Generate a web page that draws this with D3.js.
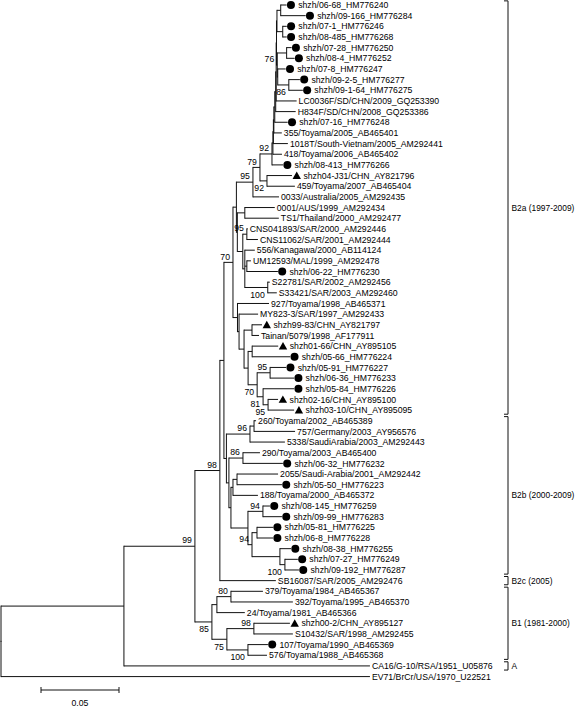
<!DOCTYPE html>
<html><head><meta charset="utf-8">
<script src="https://cdn.jsdelivr.net/npm/d3@7"></script>
<style>
html,body{margin:0;padding:0;background:#fff;}
svg{display:block;font-family:"Liberation Sans",Arial,Helvetica,sans-serif;}
</style></head><body>
<svg id="chart" width="576" height="707"></svg>
<script>
// Tree (Newick, branch lengths in substitutions/site; internal labels = bootstrap, "b" suffix = printed below node)
const treeNewick = `
((((((
 (
  (
   (
    ((((((((
      ((
        (shzh/06-68_HM776240:0.0038,shzh/09-166_HM776284:0.0160):0.0024,
        (shzh/07-1_HM776246:0.0026,shzh/08-485_HM776268:0.0026):0.0037
      ):0.0003,
      (
        (shzh/07-28_HM776250:0.0032,shzh/08-4_HM776252:0.0051):0.0060,
        (shzh/07-8_HM776247:0.0051,(shzh/09-2-5_HM776277:0.0071,shzh/09-1-64_HM776275:0.0090)86b:0.0071):0.0003
      )76:0.0005
     ):0.0002,
     LC0036F/SD/CHN/2009_GQ253390:0.0131):0.0003,
     H834F/SD/CHN/2008_GQ253386:0.0128):0.0006,
     shzh/07-16_HM776248:0.0083):0.0006,
     355/Toyama/2005_AB465401:0.0051):0.0003,
     1018T/South-Vietnam/2005_AM292441:0.0093):0.0003,
     418/Toyama/2006_AB465402:0.0058):0.0006,
     shzh/08-413_HM776266:0.0071)92:0.0077,
     (shzh04-J31/CHN_AY821796:0.0160,459/Toyama/2007_AB465404:0.0179)92b:0.0045
    )79:0.0045,
    0033/Australia/2005_AM292435:0.0167)95:0.0106,
   (
    (0001/AUS/1999_AM292434:0.0192,TS1/Thailand/2000_AM292477:0.0218):0.0048,
    (
     (CNS041893/SAR/2000_AM292446:0.0006,CNS11062/SAR/2001_AM292444:0.0071)95:0.0026,
     (556/Kanagawa/2000_AB114124:0.0064,
      (UM12593/MAL/1999_AM292478:0.0026,shzh/06-22_HM776230:0.0199):0.0013,
      (S22781/SAR/2002_AM292456:0.0013,S33421/SAR/2003_AM292460:0.0058)100b:0.0147
     ):0.0013
    ):0.0035
   ):0.0006
  ):0.0022,
  (927/Toyama/1998_AB465371:0.0202,
   (MY823-3/SAR/1997_AM292433:0.0122,
    (
     (shzh99-83/CHN_AY821797:0.0064,Tainan/5079/1998_AF177911:0.0045):0.0051,
     (
      (shzh01-66/CHN_AY895105:0.0167,shzh/05-66_HM776224:0.0244):0.0026,
      (
       (shzh/05-91_HM776227:0.0103,shzh/06-36_HM776233:0.0154)95:0.0083,
       (shzh/05-84_HM776226:0.0199,(shzh02-16/CHN_AY895100:0.0064,shzh03-10/CHN_AY895095:0.0167)95b:0.0032)81b:0.0038
      )70b:0.0058
     ):0.0026
    ):0.0032
   ):0.0010
  ):0.0029
 )70:0.0058,
 (
  ((260/Toyama/2002_AB465389:0.0013,757/Germany/2003_AY956576:0.0263):0.0026,5338/SaudiArabia/2003_AM292443:0.0224)96:0.0151,
  (
   (290/Toyama/2003_AB465400:0.0109,shzh/06-32_HM776232:0.0256)86:0.0090,
   (
    ((2055/Saudi-Arabia/2001_AM292442:0.0263,shzh/05-50_HM776223:0.0288):0.0026,188/Toyama/2000_AB465372:0.0160):0.0013,
    (
     (shzh/08-145_HM776259:0.0045,shzh/09-99_HM776283:0.0122)94:0.0096,
     (
      (shzh/05-81_HM776225:0.0103,shzh/06-8_HM776228:0.0103):0.0032,
      (shzh/08-38_HM776255:0.0071,(shzh/07-27_HM776249:0.0083,shzh/09-192_HM776287:0.0090)100b:0.0032):0.0179
     )94:0.0026
    ):0.0109
   ):0.0013
  ):0.0016
 ):0.0016
):0.0026,
SB16087/SAR/2005_AM292476:0.0359)98:0.0160,
(
 ((379/Toyama/1984_AB465367:0.0205,392/Toyama/1995_AB465370:0.0397)80:0.0090,24/Toyama/1981_AB465366:0.0179):0.0032,
 ((shzh00-2/CHN_AY895127:0.0231,S10432/SAR/1998_AM292455:0.0250)98:0.0173,
  (107/Toyama/1990_AB465369:0.0128,576/Toyama/1988_AB465368:0.0122)100b:0.0135)75b:0.0096
)85b:0.0109
)99:0.0455,
CA16/G-10/RSA/1951_U05876:0.1577):0.0788,
EV71/BrCr/USA/1970_U22521:0.2365);`;

const circleMarked = [
 "shzh/06-68_HM776240","shzh/09-166_HM776284","shzh/07-1_HM776246","shzh/08-485_HM776268",
 "shzh/07-28_HM776250","shzh/08-4_HM776252","shzh/07-8_HM776247","shzh/09-2-5_HM776277",
 "shzh/09-1-64_HM776275","shzh/07-16_HM776248","shzh/08-413_HM776266","shzh/06-22_HM776230",
 "shzh/05-66_HM776224","shzh/05-91_HM776227","shzh/06-36_HM776233","shzh/05-84_HM776226",
 "shzh/06-32_HM776232","shzh/05-50_HM776223","shzh/08-145_HM776259","shzh/09-99_HM776283",
 "shzh/05-81_HM776225","shzh/06-8_HM776228","shzh/08-38_HM776255","shzh/07-27_HM776249",
 "shzh/09-192_HM776287","107/Toyama/1990_AB465369"
];
const triangleMarked = [
 "shzh04-J31/CHN_AY821796","shzh99-83/CHN_AY821797","shzh01-66/CHN_AY895105",
 "shzh02-16/CHN_AY895100","shzh03-10/CHN_AY895095","shzh00-2/CHN_AY895127"
];
const cladeNames = ["B2a (1997-2009)","B2b (2000-2009)","B2c (2005)","B1 (1981-2000)","A"];
const cladeFirst = ["shzh/06-68_HM776240","260/Toyama/2002_AB465389","SB16087/SAR/2005_AM292476","379/Toyama/1984_AB465367","CA16/G-10/RSA/1951_U05876"];
const cladeLast  = ["shzh03-10/CHN_AY895095","shzh/09-192_HM776287","SB16087/SAR/2005_AM292476","576/Toyama/1988_AB465368","CA16/G-10/RSA/1951_U05876"];
const scaleBarValue = 0.05;
const scaleBarLabel = "0.05";

function parseNewick(s){
  let i=0;
  function node(){
    const n={};
    if(s[i]==='('){
      n.children=[];
      i++;
      n.children.push(node());
      while(s[i]===','){ i++; n.children.push(node()); }
      i++;
    }
    let name='';
    while(i<s.length && !'(),:;'.includes(s[i])) name+=s[i++];
    n.name=name;
    n.length=0;
    if(s[i]===':'){ i++; let num=''; while(i<s.length && !'(),;'.includes(s[i])) num+=s[i++]; n.length=parseFloat(num); }
    return n;
  }
  return node();
}

const svg = d3.select("#chart");
const FONT = 8.7;
const stroke = "#111";

const root = d3.hierarchy(parseNewick(treeNewick.replace(/\s+/g,'')));
root.eachBefore(d => { d.dist = d.parent ? d.parent.dist + d.data.length : 0; });
const leaves = root.leaves();
const yScale = d3.scalePoint().domain(leaves.map(d=>d.data.name)).range([5, 5 + 10.66*(leaves.length-1)]);
const step = yScale.step();
leaves.forEach(d => d.py = yScale(d.data.name));
root.eachAfter(d => { if(d.children) d.py = (d.children[0].py + d.children[d.children.length-1].py)/2; });

const x = d3.scaleLinear().domain([0, scaleBarValue]).range([1, 79]);

const g = svg.append("g");
g.selectAll("line.h").data(root.descendants().filter(d=>d.parent)).join("line")
  .attr("x1", d=>x(d.parent.dist)).attr("x2", d=>x(d.dist))
  .attr("y1", d=>d.py).attr("y2", d=>d.py)
  .attr("stroke", stroke).attr("stroke-width", 1);
g.selectAll("line.v").data(root.descendants().filter(d=>d.children)).join("line")
  .attr("x1", d=>x(d.dist)).attr("x2", d=>x(d.dist))
  .attr("y1", d=>d.children[0].py - 0.5).attr("y2", d=>d.children[d.children.length-1].py + 0.5)
  .attr("stroke", stroke).attr("stroke-width", 1);

const circ = new Set(circleMarked), tri = new Set(triangleMarked);
g.selectAll("circle.m").data(leaves.filter(d=>circ.has(d.data.name))).join("circle")
  .attr("cx", d=>x(d.dist)+4.3).attr("cy", d=>d.py).attr("r", 4).attr("fill", "#000");
g.selectAll("path.m").data(leaves.filter(d=>tri.has(d.data.name))).join("path")
  .attr("d", d=>{ const cx=x(d.dist)+4.8, cy=d.py; return `M${cx-4.2},${cy+3.4}L${cx+4.2},${cy+3.4}L${cx},${cy-4}Z`; })
  .attr("fill", "#000");

g.selectAll("text.leaf").data(leaves).join("text")
  .attr("x", d=>x(d.dist) + ((circ.has(d.data.name)||tri.has(d.data.name)) ? 11.5 : 2))
  .attr("y", d=>d.py).attr("dy", "0.36em")
  .attr("font-size", FONT).attr("fill", "#000")
  .text(d=>d.data.name);

const boot = root.descendants().filter(d=>d.children && /^\d+/.test(d.data.name));
g.selectAll("text.bs").data(boot).join("text")
  .attr("x", d=>x(d.dist) - 3)
  .attr("y", d=> d.data.name.endsWith("b") ? d.py + 10.5 : d.py - 2.8)
  .attr("text-anchor", "end").attr("font-size", FONT).attr("fill", "#000")
  .text(d=>parseInt(d.data.name));

const bx = 508;
cladeNames.forEach((name,i)=>{
  const y1 = yScale(cladeFirst[i]) - step/2 + 1.2;
  const y2 = yScale(cladeLast[i]) + step/2 - 1.2;
  const p = d3.path();
  p.moveTo(bx-4, y1); p.lineTo(bx, y1); p.lineTo(bx, y2); p.lineTo(bx-4, y2);
  svg.append("path").attr("d", p.toString()).attr("fill","none").attr("stroke", stroke).attr("stroke-width",1);
  svg.append("text").attr("x", bx+3.5).attr("y", (y1+y2)/2).attr("dy","0.36em")
    .attr("font-size", 8.4).attr("fill","#000").text(name);
});

const sb = d3.scaleLinear().domain([0, scaleBarValue]).range([41, 119]);
const sy = 690;
svg.append("path").attr("d", `M${sb(0)},${sy-3}V${sy+3}M${sb(0)},${sy}H${sb(scaleBarValue)}M${sb(scaleBarValue)},${sy-3}V${sy+3}`)
  .attr("fill","none").attr("stroke", stroke).attr("stroke-width",1);
svg.append("text").attr("x", (sb(0)+sb(scaleBarValue))/2).attr("y", sy+13).attr("dy","0.36em")
  .attr("text-anchor","middle").attr("font-size", FONT).text(scaleBarLabel);
</script>
</body></html>
